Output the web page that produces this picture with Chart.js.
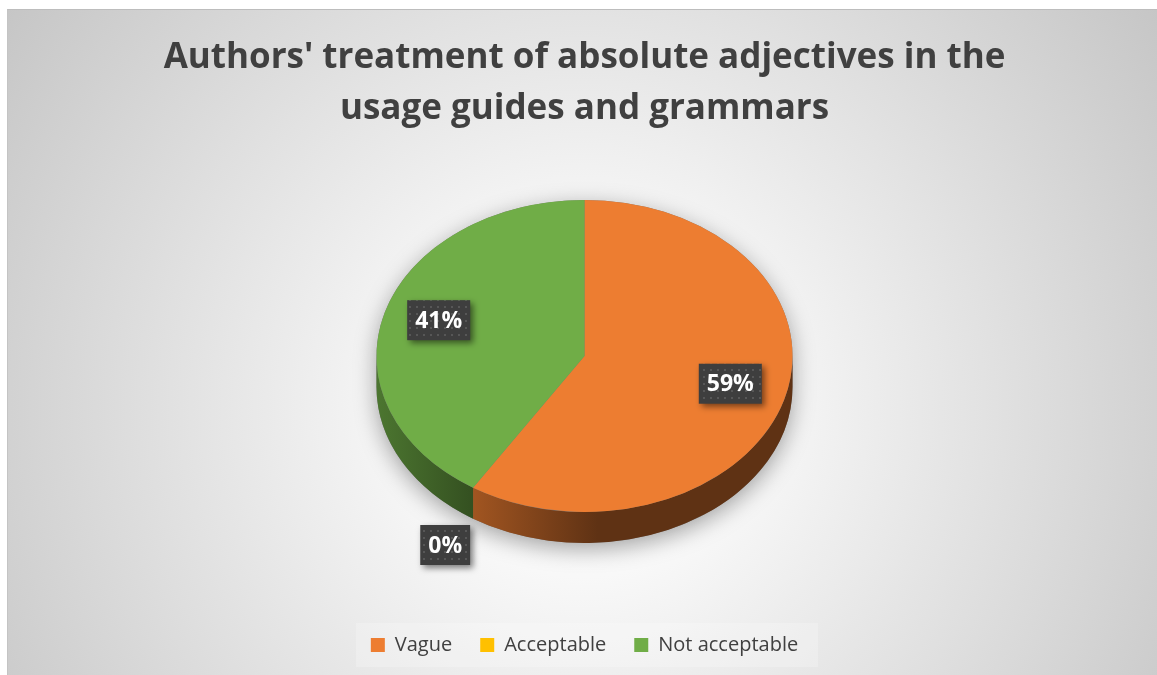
<!DOCTYPE html>
<html>
<head>
<meta charset="utf-8">
<script src="https://cdn.jsdelivr.net/npm/chart.js@4"></script>
<style>
  html, body { margin: 0; padding: 0; background: #ffffff; }
  #chartBox {
    position: absolute;
    left: 7px;
    top: 9px;
    width: 1150px;
    height: 666px;
    border-top: 1px solid #bdbdbd;
    border-left: 1px solid #c4c4c4;
    box-sizing: border-box;
    background: radial-gradient(circle farthest-corner at 50% 60%, #ffffff 0%, #f8f8f8 24%, #c6c6c6 100%);
  }
</style>
</head>
<body>
<div id="chartBox"><canvas id="myChart"></canvas></div>
<script>
const categories = ["Vague", "Acceptable", "Not acceptable"];
const shares = [59, 0, 41];
const sliceColors = ["#ED7D31", "#FFC000", "#70AD47"];
const titleLines = ["Authors' treatment of absolute adjectives in the", "usage guides and grammars"];

const FONT = "'Open Sans', 'Noto Sans', sans-serif";

// darken a hex colour by a factor (1 = unchanged)
function shade(hex, f) {
  const r = parseInt(hex.slice(1, 3), 16);
  const g = parseInt(hex.slice(3, 5), 16);
  const b = parseInt(hex.slice(5, 7), 16);
  return `rgb(${Math.round(r * f)}, ${Math.round(g * f)}, ${Math.round(b * f)})`;
}

// dotted dark fill for the value boxes
function makeDotPattern(ctx) {
  const c = document.createElement("canvas");
  c.width = 7;
  c.height = 7;
  const p = c.getContext("2d");
  p.fillStyle = "#3e3e3e";
  p.fillRect(0, 0, 7, 7);
  p.fillStyle = "#575757";
  p.fillRect(2, 2, 2, 2);
  return ctx.createPattern(c, "repeat");
}

// tilted pie: side walls + shadow, squashed top face, boxed labels
const pie3d = {
  id: "pie3d",
  beforeDraw(chart) {
    // faint panel behind the legend
    const boxes = chart.legend.legendHitBoxes;
    if (!boxes || !boxes.length) return;
    const ctx = chart.ctx;
    const first = boxes[0], last = boxes[boxes.length - 1];
    ctx.save();
    ctx.fillStyle = "rgba(255,255,255,0.22)";
    ctx.fillRect(first.left - 15, first.top - 12, last.left + last.width - first.left + 35, first.height + 24);
    ctx.restore();
  },
  beforeDatasetsDraw(chart, args, opts) {
    const arcs = chart.getDatasetMeta(0).data;
    if (!arcs.length) return;
    const ctx = chart.ctx;
    const { x: cx, y: cy, outerRadius: r } = arcs[0];
    const k = opts.tilt, depth = opts.depth;
    const ey = cy + opts.lift;

    // soft shadow under the disc
    ctx.save();
    ctx.shadowColor = "rgba(0,0,0,0.35)";
    ctx.shadowBlur = 22;
    ctx.shadowOffsetY = 6;
    ctx.beginPath();
    ctx.ellipse(cx, ey, r, r * k, 0, Math.PI, 2 * Math.PI);
    ctx.ellipse(cx, ey + depth, r, r * k, 0, 0, Math.PI);
    ctx.closePath();
    ctx.fillStyle = "#777";
    ctx.fill();
    ctx.restore();

    // front walls of each slice
    arcs.forEach((arc, i) => {
      const s = Math.max(arc.startAngle, 0);
      const e = Math.min(arc.endAngle, Math.PI);
      if (e <= s) return;
      const base = sliceColors[i];
      const x0 = cx + r * Math.cos(e);
      const grad = ctx.createLinearGradient(x0, 0, x0 + r * 0.6, 0);
      grad.addColorStop(0, shade(base, 0.68));
      grad.addColorStop(1, shade(base, 0.4));
      ctx.save();
      ctx.beginPath();
      ctx.ellipse(cx, ey, r, r * k, 0, s, e);
      ctx.ellipse(cx, ey + depth, r, r * k, 0, e, s, true);
      ctx.closePath();
      ctx.fillStyle = grad;
      ctx.fill();
      ctx.restore();
    });

    // squash the circular top face into an ellipse
    ctx.save();
    ctx.translate(0, ey);
    ctx.scale(1, k);
    ctx.translate(0, -cy);
  },
  afterDatasetsDraw(chart, args, opts) {
    const arcs = chart.getDatasetMeta(0).data;
    if (!arcs.length) return;
    const ctx = chart.ctx;
    ctx.restore();

    const { x: cx, y: cy, outerRadius: r } = arcs[0];
    const k = opts.tilt, depth = opts.depth;
    const ey = cy + opts.lift;
    const total = shares.reduce((a, b) => a + b, 0);
    const pattern = makeDotPattern(ctx);

    arcs.forEach((arc, i) => {
      const pct = Math.round((shares[i] / total) * 100);
      const mid = (arc.startAngle + arc.endAngle) / 2;
      let lx, ly;
      if (shares[i] > 0) {
        lx = cx + 0.73 * r * Math.cos(mid);
        ly = ey + 0.73 * r * k * Math.sin(mid) - 4;
      } else {
        lx = cx + 1.25 * r * Math.cos(mid);
        ly = ey + 1.2 * r * k * Math.sin(mid) + depth;
      }
      const text = pct + "%";
      ctx.save();
      ctx.font = `bold 23px ${FONT}`;
      const tw = ctx.measureText(text).width;
      const w = tw + 16, h = 40;
      ctx.shadowColor = "rgba(0,0,0,0.5)";
      ctx.shadowBlur = 6;
      ctx.shadowOffsetX = 3;
      ctx.shadowOffsetY = 3;
      ctx.fillStyle = pattern;
      ctx.fillRect(lx - w / 2, ly - h / 2, w, h);
      ctx.shadowColor = "transparent";
      ctx.fillStyle = "#ffffff";
      ctx.textAlign = "center";
      ctx.textBaseline = "middle";
      ctx.fillText(text, lx, ly + 1);
      ctx.restore();
    });
  }
};

const ctx = document.getElementById("myChart").getContext("2d");

const myChart = new Chart(ctx, {
  type: "pie",
  data: {
    labels: categories,
    datasets: [
      {
        data: shares,
        backgroundColor: sliceColors,
        borderWidth: 0,
        hoverOffset: 0,
        radius: 208,
      },
    ],
  },
  options: {
    responsive: true,
    maintainAspectRatio: false,
    animation: false,
    layout: {
      padding: { left: 4, right: 0, top: 0, bottom: 10 },
    },
    plugins: {
      title: {
        display: true,
        text: titleLines,
        color: "#404040",
        font: { family: FONT, size: 35, weight: "bold", lineHeight: 1.47 },
        padding: { top: 22, bottom: 0 },
      },
      legend: {
        position: "bottom",
        labels: {
          color: "#404040",
          font: { family: FONT, size: 20 },
          boxWidth: 14,
          boxHeight: 14,
          padding: 28,
        },
      },
      tooltip: { enabled: false },
      pie3d: { tilt: 0.75, depth: 31, lift: -15 },
    },
  },
  plugins: [pie3d],
});
</script>
</body>
</html>
